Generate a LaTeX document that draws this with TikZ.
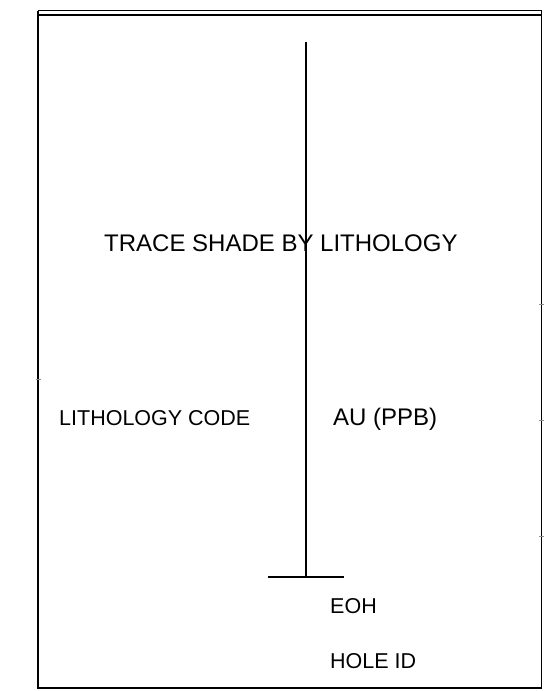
\documentclass[tikz,border=0pt]{standalone}
\usepackage{fontspec}
\setmainfont{Liberation Sans}
\begin{document}
\begin{tikzpicture}[x=1pt,y=-1pt,
  frame/.style={line width=1.6pt,black},
  trace/.style={line width=1.2pt,black},
  tick/.style={line width=0.5pt,black!45},
  lbl/.style={inner sep=0pt,anchor=base west},
  big/.style={font=\fontsize{24}{28}\selectfont},
  mid/.style={font=\fontsize{21.5}{25}\selectfont}]
  \useasboundingbox (0,0) rectangle (555,691);
  % log frame with double top rule
  \draw[frame] (38,10.5) -- (541.5,10.5);
  \draw[frame] (38,15) -- (541.5,15);
  \draw[frame] (38,10.5) -- (38,688) -- (541.5,688) -- (541.5,10.5);
  % faint scale ticks on the frame sides
  \draw[tick] (35.5,379) -- (40.5,379);
  \foreach \yy in {304,420,536} \draw[tick] (539,\yy) -- (544,\yy);
  % trace axis and end-of-hole bar
  \coordinate (top) at (306,42);
  \coordinate (eoh) at (306,577);
  \coordinate (barL) at (268,577);
  \coordinate (barR) at (344,577);
  \draw[trace] (top) -- (eoh);
  \draw[trace] (barL) -- (barR);
  % labels
  \node[lbl,big] (title) at (104,251) {TRACE SHADE BY LITHOLOGY};
  \node[lbl,mid] (lith) at (59,425) {LITHOLOGY CODE};
  \node[lbl,big] (au) at (333,425) {AU (PPB)};
  \node[lbl,mid] (eohlbl) at (330,613) {EOH};
  \node[lbl,mid] (hole) at (330,668) {HOLE ID};
\end{tikzpicture}
\end{document}
